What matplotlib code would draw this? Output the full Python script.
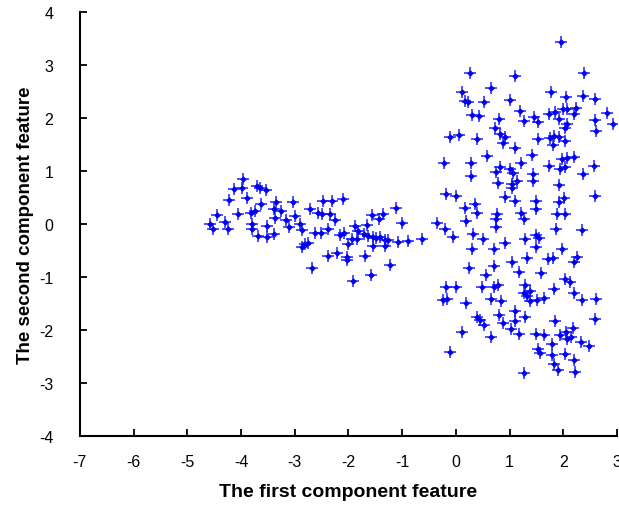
import matplotlib.pyplot as plt

# left cluster (first feature roughly -4.6 .. -0.3)
left_x = [-3.96, -4.14, -3.99, -3.71, -3.64, -3.54, -4.23, -3.88, -3.62, -3.34,
          -3.03, -3.39, -3.26, -3.74, -3.82, -4.05, -4.45, -3.37, -3.17, -2.99,
          -2.90, -4.30, -4.58, -4.52, -4.24, -3.79, -3.79, -3.52, -3.11, -2.72,
          -2.57, -2.62, -3.68, -3.52, -3.38, -2.87, -2.81, -2.75, -2.86, -2.67,
          -2.47, -2.31, -2.11, -2.50, -2.34, -2.26, -2.51, -2.38, -2.16, -2.08,
          -1.88, -1.66, -1.57, -1.35, -1.44, -1.12, -1.00, -0.36, -2.00, -1.94,
          -1.82, -1.85, -1.72, -1.63, -1.54, -1.48, -1.41, -1.32, -1.27, -1.54,
          -1.32, -1.07, -0.90, -0.63, -2.38, -2.22, -2.03, -2.03, -1.69, -1.23,
          -1.58, -1.92]
left_y = [0.85, 0.66, 0.68, 0.72, 0.69, 0.64, 0.46, 0.50, 0.38, 0.41,
          0.42, 0.28, 0.25, 0.25, 0.22, 0.20, 0.18, 0.11, 0.08, 0.16,
          0.01, 0.05, 0.00, -0.09, -0.09, 0.01, -0.09, -0.03, -0.06, 0.28,
          0.22, -0.16, -0.22, -0.24, -0.18, -0.11, -0.38, -0.36, -0.44, -0.82,
          0.43, 0.43, 0.48, 0.19, 0.19, 0.08, -0.17, -0.09, -0.20, -0.16,
          -0.03, -0.01, 0.18, 0.20, 0.09, 0.31, 0.03, 0.03, -0.38, -0.28,
          -0.13, -0.28, -0.19, -0.22, -0.24, -0.26, -0.25, -0.30, -0.30, -0.41,
          -0.41, -0.33, -0.31, -0.28, -0.60, -0.55, -0.62, -0.68, -0.60, -0.77,
          -0.96, -1.08]

# right cluster (first feature roughly -0.3 .. 2.9)
right_x = [1.95, 0.26, 1.09, 2.39, 0.12, 0.66, 0.17, 0.23, 0.53, 1.01,
           1.77, 2.04, 2.36, 2.59, 0.29, 0.42, 0.81, 1.19, 1.27, 1.45,
           1.53, 1.73, 1.85, 1.99, 2.06, 1.91, 2.19, 2.24, 2.06, 2.58,
           2.82, 2.92, 0.73,
           -0.11, 0.06, 0.39, 0.82, 0.91, 0.88, 1.10, 1.52, 1.75, 1.83,
           1.91, 2.03, 1.80, 2.03, 2.61, 0.57, 1.41, -0.22, 0.28, 0.28,
           1.21, 0.82, 0.75, 1.01, 1.07, 1.74, 1.97, 2.06, 2.20, 2.03,
           1.93, 2.57, 2.36, 1.44, 1.44, 0.78, 1.04, 1.13, 1.04, 1.91,
           -0.18, 0.00, 0.91, 1.10, 1.49, 1.49, 2.01, 1.91, 2.59, 0.17,
           0.36, 0.39, 0.76, 1.21, 1.88, 2.03,
           -0.20, -0.05, 0.19, 0.32, 0.50, 0.75, 0.75, 1.26, 0.29, 0.70,
           0.91, 1.29, 1.49, 1.55, 1.49, 1.86, 2.34, 1.97, 1.32, 1.04,
           1.72, 1.81, 2.25, 2.20, 0.25, 0.70, 0.56, 1.18, 1.58, 2.03,
           2.12, -0.18, 0.00, 0.48, 0.70, 0.79, 1.29, 1.26, 1.37, 1.32,
           1.83, 2.19, -0.25, -0.16, 0.19, 0.66, 0.83, 1.50, 1.63, 2.34,
           2.61, 1.38,
           0.39, 0.44, 0.52, 0.81, 0.87, 1.03, 1.10, 1.10, 1.29, 1.18,
           0.12, 0.65, -0.12, 1.49, 1.63, 1.85, 2.17, 1.93, 2.05, 2.06,
           2.14, 2.32, 2.48, 2.59, 1.52, 1.57, 1.78, 1.78, 2.03, 2.20,
           1.83, 1.89, 2.22, 1.27]
right_y = [3.43, 2.86, 2.80, 2.85, 2.50, 2.56, 2.33, 2.30, 2.30, 2.35,
           2.50, 2.39, 2.41, 2.37, 2.06, 2.04, 1.99, 2.14, 1.95, 2.03,
           1.93, 2.08, 2.11, 2.18, 2.17, 1.99, 2.08, 2.20, 1.89, 1.97,
           2.09, 1.89, 1.82,
           1.64, 1.69, 1.60, 1.71, 1.64, 1.54, 1.43, 1.60, 1.62, 1.67,
           1.65, 1.57, 1.50, 1.81, 1.75, 1.29, 1.31, 1.15, 1.15, 0.91,
           1.16, 1.08, 0.98, 1.04, 0.96, 1.10, 1.23, 1.25, 1.26, 1.07,
           1.04, 1.10, 0.94, 0.94, 0.82, 0.77, 0.75, 0.81, 0.68, 0.74,
           0.57, 0.53, 0.52, 0.43, 0.43, 0.28, 0.50, 0.41, 0.53, 0.31,
           0.38, 0.22, 0.20, 0.22, 0.19, 0.20,
           -0.09, -0.24, 0.06, -0.18, -0.28, 0.10, -0.05, 0.09, -0.47, -0.47,
           -0.35, -0.28, -0.20, -0.26, -0.43, -0.09, -0.11, -0.47, -0.63, -0.72,
           -0.66, -0.64, -0.62, -0.72, -0.83, -0.79, -0.96, -0.91, -0.93, -1.04,
           -1.10, -1.18, -1.19, -1.18, -1.19, -1.14, -1.14, -1.29, -1.27, -1.35,
           -1.23, -1.29, -1.43, -1.42, -1.48, -1.42, -1.45, -1.43, -1.40, -1.43,
           -1.42, -1.45,
           -1.76, -1.81, -1.91, -1.72, -1.87, -1.98, -1.64, -1.82, -1.76, -2.08,
           -2.03, -2.12, -2.41, -2.08, -2.09, -1.82, -1.95, -2.09, -2.04, -2.16,
           -2.12, -2.22, -2.30, -1.78, -2.36, -2.43, -2.26, -2.47, -2.45, -2.56,
           -2.64, -2.75, -2.79, -2.80]

x_ticks = [-7, -6, -5, -4, -3, -2, -1, 0, 1, 2, 3]
y_ticks = [-4, -3, -2, -1, 0, 1, 2, 3, 4]

plt.rcParams['font.family'] = ['Liberation Sans', 'DejaVu Sans']
plt.rcParams['axes.unicode_minus'] = False

fig = plt.figure(figsize=(6.19, 5.06), dpi=100)
ax = fig.add_axes([0.129, 0.136, 0.868, 0.838])

xs = left_x + right_x
ys = left_y + right_y
# star-like markers: thin plus with a thick centre
ax.plot(xs, ys, linestyle='none', marker='+', markersize=8.5,
        markeredgewidth=1.2, color='#1010ff', alpha=0.85)
ax.plot(xs, ys, linestyle='none', marker='D', markersize=3.4,
        markeredgewidth=0, color='#0000ee')

ax.set_xlim(-7, 3)
ax.set_ylim(-4, 4)
ax.set_xticks(x_ticks)
ax.set_yticks(y_ticks)
ax.tick_params(direction='in', length=5, width=1.3, labelsize=11.5)
ax.tick_params(axis='x', pad=13)
ax.tick_params(axis='y', pad=19)

ax.spines['top'].set_visible(False)
ax.spines['right'].set_visible(False)
ax.spines['left'].set_linewidth(1.5)
ax.spines['bottom'].set_linewidth(1.5)

ax.set_xlabel('The first component feature', fontsize=14, fontweight='bold', labelpad=10)
ax.set_ylabel('The second component feature', fontsize=13.5, fontweight='bold', labelpad=4)

fig.savefig('out.png', dpi=100)
